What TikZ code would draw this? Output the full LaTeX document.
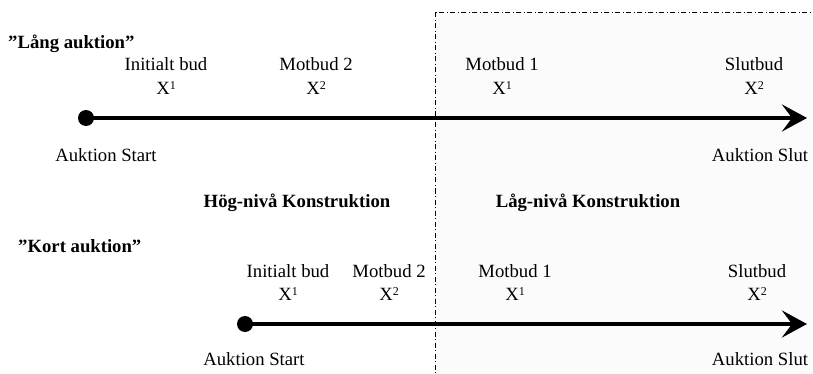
\documentclass[tikz,border=0pt]{standalone}
\usepackage{fontspec}
\setmainfont{Liberation Serif}
\usetikzlibrary{positioning, arrows.meta}

\newcommand{\bidx}[1]{X\raisebox{4.5pt}{\fontsize{12pt}{12pt}\selectfont #1}}

\begin{document}
\begin{tikzpicture}[x=1pt, y=-1pt, >=Stealth,
    lbl/.style={inner sep=0pt, anchor=base, font=\fontsize{18.7pt}{22pt}\selectfont},
    hd/.style={lbl, font=\fontsize{18.7pt}{22pt}\selectfont\bfseries},
    dot/.style={circle, fill=black, inner sep=0pt, minimum size=16pt},
    tl/.style={line width=4pt, -{Stealth[length=25pt, width=27pt, inset=10pt]}},
    zone/.style={fill=gray!3, draw, line width=0.7pt,
                 dash pattern=on 5pt off 2.5pt on 1pt off 2.5pt}]
  \useasboundingbox (0,0) rectangle (813,374);
  \draw[zone] (435,12.5) rectangle (820,380);

  % lang auktion
  \node[hd, anchor=base west] (titleL) at (8,49) {”Lång auktion”};
  \node[lbl] (bidL1) at (166,71) {Initialt bud};
  \node[lbl] (bidL2) at (316,71) {Motbud 2};
  \node[lbl] (bidL3) at (502,71) {Motbud 1};
  \node[lbl] (bidL4) at (754,71) {Slutbud};
  \node[lbl, below=10pt of bidL1] (xL1) {\bidx{1}};
  \node[lbl, below=10pt of bidL2] (xL2) {\bidx{2}};
  \node[lbl, below=10pt of bidL3] (xL3) {\bidx{1}};
  \node[lbl, below=10pt of bidL4] (xL4) {\bidx{2}};
  \node[dot] (startL) at (86,118) {};
  \coordinate (endL) at (807,118);
  \draw[tl] (startL.center) -- (endL);
  \node[lbl] (sL) at (106,162) {Auktion Start};
  \node[lbl] (eL) at (760,162) {Auktion Slut};

  \node[hd] (high) at (297,207) {Hög-nivå Konstruktion};
  \node[hd] (low) at (588,207) {Låg-nivå Konstruktion};

  % kort auktion
  \node[hd, anchor=base west] (titleK) at (18,252) {”Kort auktion”};
  \node[lbl] (bidK1) at (288,277) {Initialt bud};
  \node[lbl] (bidK2) at (389,277) {Motbud 2};
  \node[lbl] (bidK3) at (515,277) {Motbud 1};
  \node[lbl] (bidK4) at (757,277) {Slutbud};
  \node[lbl, below=10pt of bidK1] (xK1) {\bidx{1}};
  \node[lbl, below=10pt of bidK2] (xK2) {\bidx{2}};
  \node[lbl, below=10pt of bidK3] (xK3) {\bidx{1}};
  \node[lbl, below=10pt of bidK4] (xK4) {\bidx{2}};
  \node[dot] (startK) at (245,324) {};
  \coordinate (endK) at (807,324);
  \draw[tl] (startK.center) -- (endK);
  \node[lbl] (sK) at (254,365) {Auktion Start};
  \node[lbl] (eK) at (760,365) {Auktion Slut};
\end{tikzpicture}
\end{document}
